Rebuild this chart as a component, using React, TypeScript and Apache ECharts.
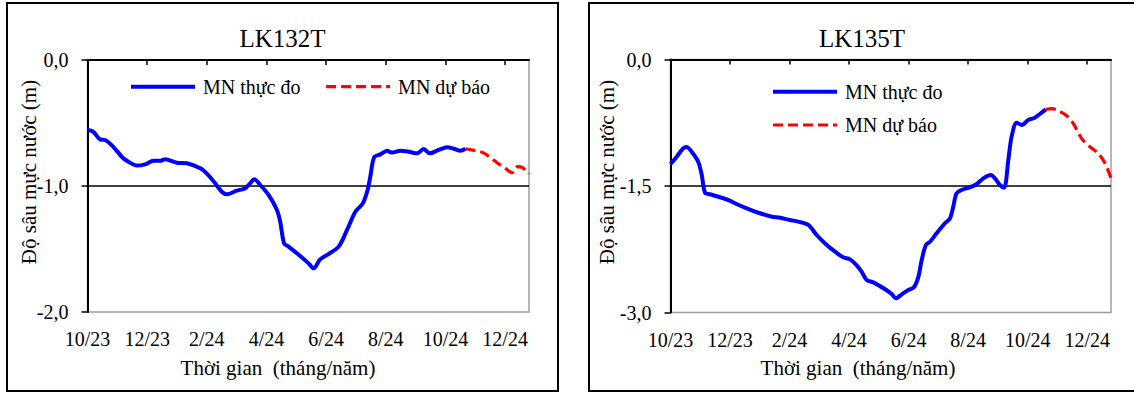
import React, { useEffect, useRef } from "react";
import * as echarts from "echarts";

// ---- Data (x = months since 10/2023, y = depth in m) ----
const xTickValues = [0, 2, 4, 6, 8, 10, 12, 14];
const xTickLabels = ["10/23", "12/23", "2/24", "4/24", "6/24", "8/24", "10/24", "12/24"];
const seriesNames = ["MN thực đo", "MN dự báo"];
const titles = ["LK132T", "LK135T"];

const lk132ObsMonths = [0, 0.19, 0.42, 0.59, 0.81, 1.2, 1.37, 1.65, 1.93, 2.21, 2.43, 2.6, 2.99, 3.33, 3.78, 4.05, 4.28, 4.5, 4.67, 5.0, 5.29, 5.45, 5.59, 5.79, 6.07, 6.35, 6.46, 6.59, 6.74, 7.13, 7.41, 7.58, 7.8, 8.08, 8.42, 8.7, 8.98, 9.23, 9.39, 9.48, 9.61, 9.82, 10.04, 10.21, 10.49, 10.77, 11.05, 11.27, 11.47, 11.77, 12.05, 12.28, 12.5, 12.67];
const lk132ObsDepth = [-0.556, -0.569, -0.63, -0.635, -0.675, -0.78, -0.807, -0.838, -0.828, -0.8, -0.8, -0.788, -0.815, -0.82, -0.86, -0.913, -0.979, -1.045, -1.066, -1.037, -1.018, -0.979, -0.947, -0.992, -1.071, -1.19, -1.283, -1.455, -1.481, -1.556, -1.614, -1.653, -1.582, -1.54, -1.481, -1.349, -1.204, -1.138, -1.032, -0.926, -0.772, -0.749, -0.72, -0.735, -0.72, -0.728, -0.741, -0.706, -0.741, -0.714, -0.693, -0.704, -0.72, -0.704];
const lk132FcstMonths = [12.67, 13.17, 13.34, 13.73, 14.01, 14.23, 14.42, 14.57, 14.8];
const lk132FcstDepth = [-0.704, -0.728, -0.746, -0.815, -0.86, -0.894, -0.847, -0.852, -0.905];

const lk135ObsMonths = [0, 0.21, 0.43, 0.54, 0.71, 0.93, 1.05, 1.16, 1.33, 1.94, 2.22, 2.56, 2.95, 3.4, 3.68, 4.01, 4.29, 4.63, 4.91, 5.25, 5.53, 5.8, 6.03, 6.25, 6.42, 6.59, 6.81, 7.21, 7.43, 7.57, 7.77, 7.99, 8.18, 8.33, 8.44, 8.58, 8.72, 8.94, 9.22, 9.39, 9.5, 9.61, 9.78, 10.06, 10.29, 10.51, 10.76, 10.9, 11.07, 11.21, 11.35, 11.46, 11.63, 11.8, 12.02, 12.24, 12.41, 12.61];
const lk135ObsDepth = [-1.239, -1.152, -1.053, -1.038, -1.093, -1.212, -1.37, -1.579, -1.598, -1.666, -1.713, -1.765, -1.817, -1.864, -1.876, -1.903, -1.923, -1.962, -2.081, -2.2, -2.279, -2.346, -2.37, -2.437, -2.516, -2.615, -2.643, -2.725, -2.781, -2.832, -2.785, -2.733, -2.701, -2.575, -2.378, -2.2, -2.161, -2.061, -1.942, -1.883, -1.745, -1.587, -1.547, -1.515, -1.476, -1.409, -1.37, -1.409, -1.488, -1.52, -1.192, -0.915, -0.749, -0.777, -0.717, -0.69, -0.646, -0.591];
const lk135FcstMonths = [12.61, 12.8, 13.03, 13.31, 13.53, 13.81, 14.09, 14.37, 14.6, 14.8];
const lk135FcstDepth = [-0.591, -0.583, -0.607, -0.666, -0.757, -0.935, -1.034, -1.113, -1.231, -1.409];

const yRanges = [
  { min: -2, max: 0, interval: 1, ref: -1.0 },
  { min: -3, max: 0, interval: 1.5, ref: -1.5 },
];

const zip = (xs: number[], ys: number[]) => xs.map((x, i) => [x, ys[i]]);

const FONT = "Liberation Serif";

export default function App() {
  const ref = useRef<HTMLDivElement>(null);
  useEffect(() => {
    document.body.style.margin = "0";
    if (!ref.current) return;
    const chart = echarts.init(ref.current, undefined, { renderer: "svg" });

    const grids = [
      { left: 87.5, top: 60, width: 441.5, height: 252 },
      { left: 670.5, top: 59.5, width: 440.5, height: 253 },
    ];
    const panels = [
      { x: 7, y: 3, w: 551, h: 388 },
      { x: 589, y: 3, w: 560, h: 388 },
    ];
    const titleX = [282.5, 862];
    const xNameX = [278, 858];
    const yNameX = [29, 607];

    const obsData = [zip(lk132ObsMonths, lk132ObsDepth), zip(lk135ObsMonths, lk135ObsDepth)];
    const fcstData = [zip(lk132FcstMonths, lk132FcstDepth), zip(lk135FcstMonths, lk135FcstDepth)];

    const graphic: any[] = [];
    panels.forEach((p, i) => {
      graphic.push({
        type: "rect",
        shape: { x: p.x, y: p.y, width: p.w, height: p.h },
        style: { fill: "none", stroke: "#000", lineWidth: 2 },
        silent: true,
      });
      graphic.push({
        type: "text",
        x: titleX[i],
        y: 38,
        style: { text: titles[i], fill: "#000", fontSize: 25, fontFamily: FONT, align: "center", verticalAlign: "middle" },
      });
      graphic.push({
        type: "text",
        x: xNameX[i],
        y: 368,
        style: { text: "Thời gian  (tháng/năm)", fill: "#000", fontSize: 21, fontFamily: FONT, align: "center", verticalAlign: "middle" },
      });
      graphic.push({
        type: "text",
        x: yNameX[i],
        y: 172,
        rotation: Math.PI / 2,
        style: { text: "Độ sâu mực nước (m)", fill: "#000", fontSize: 21, fontFamily: FONT, align: "center", verticalAlign: "middle" },
      });
    });

    const series: any[] = [];
    [0, 1].forEach((i) => {
      series.push({
        name: seriesNames[0],
        type: "line",
        xAxisIndex: i,
        yAxisIndex: i,
        data: obsData[i],
        symbol: "none",
        smooth: 0.3,
        itemStyle: { color: "#0000ff" },
        lineStyle: { color: "#0000ff", width: 4 },
        z: 3,
        markLine: {
          silent: true,
          symbol: ["none", "none"],
          label: { show: false },
          lineStyle: { color: "#000", width: 1.5, type: "solid" },
          data: [{ yAxis: yRanges[i].ref }],
          z: 1,
        },
      });
      series.push({
        name: seriesNames[1],
        type: "line",
        xAxisIndex: i,
        yAxisIndex: i,
        data: fcstData[i],
        symbol: "none",
        smooth: 0.3,
        itemStyle: { color: "#ff0000" },
        lineStyle: { color: "#ff0000", width: 3.2, type: [10, 5] },
        z: 3,
      });
    });

    const legendCommon = {
      padding: 0,
      itemWidth: 64,
      itemHeight: 20,
      data: seriesNames,
      selectedMode: false,
      textStyle: { fontSize: 20, fontFamily: FONT, color: "#000", padding: [0, 0, 0, 3] },
      itemStyle: { opacity: 0 },
      lineStyle: { width: "inherit" },
    };

    chart.setOption({
      animation: false,
      backgroundColor: "#fff",
      textStyle: { fontFamily: FONT },
      graphic,
      grid: grids.map((g) => ({
        ...g,
        show: true,
        borderColor: "#a0a0a0",
        borderWidth: 1.5,
        containLabel: false,
      })),
      legend: [
        { ...legendCommon, orient: "horizontal", left: 129, top: 76.7, itemGap: 24 },
        { ...legendCommon, orient: "vertical", left: 771, top: 81.7, itemGap: 13.3 },
      ],
      xAxis: [0, 1].map((i) => ({
        type: "value",
        gridIndex: i,
        min: 0,
        max: 14.8,
        interval: 2,
        axisLine: { show: true, lineStyle: { color: "#000", width: 2 } },
        axisTick: { show: true, length: 5, customValues: xTickValues, lineStyle: { color: "#000", width: 1.5 } },
        axisLabel: {
          customValues: xTickValues,
          margin: 17,
          fontSize: 20,
          fontFamily: FONT,
          color: "#000",
          formatter: (v: number) => {
            const k = xTickValues.indexOf(v);
            return k >= 0 ? xTickLabels[k] : "";
          },
        },
        splitLine: { show: false },
      })),
      yAxis: [0, 1].map((i) => ({
        type: "value",
        gridIndex: i,
        min: yRanges[i].min,
        max: yRanges[i].max,
        interval: yRanges[i].interval,
        axisLine: { show: true, lineStyle: { color: "#000", width: 2 } },
        axisTick: { show: true, length: 6, lineStyle: { color: "#000", width: 1.5 } },
        axisLabel: {
          margin: 19,
          fontSize: 20,
          fontFamily: FONT,
          color: "#000",
          padding: [5, 0, 0, 0],
          formatter: (v: number) => v.toFixed(1).replace(".", ","),
        },
        splitLine: { show: false },
      })),
      series,
    });

    return () => chart.dispose();
  }, []);

  return <div ref={ref} style={{ width: 1134, height: 393 }} />;
}
